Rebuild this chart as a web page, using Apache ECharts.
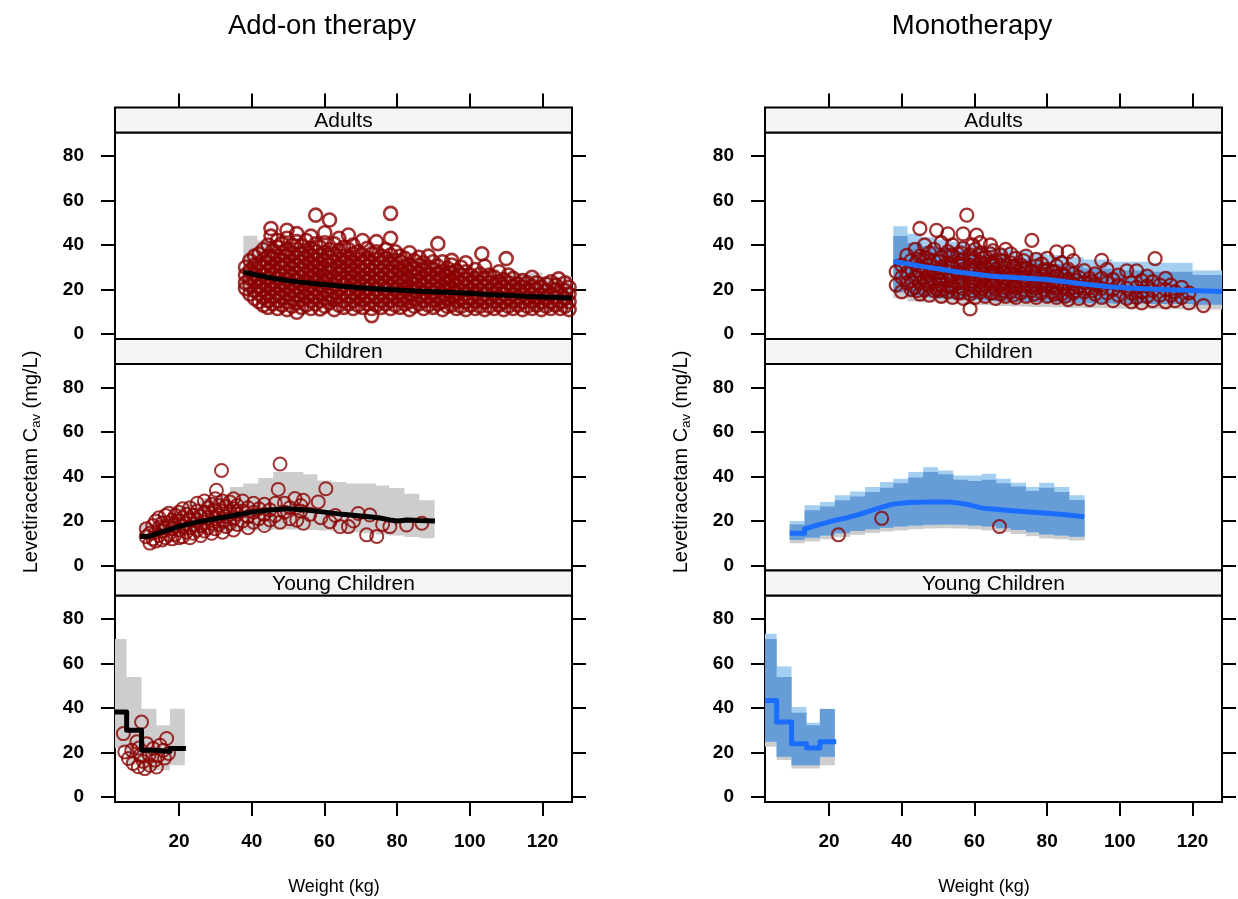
<!DOCTYPE html>
<html>
<head>
<meta charset="utf-8">
<title>Levetiracetam Cav versus weight</title>
<script src="https://cdn.jsdelivr.net/npm/echarts@6/dist/echarts.min.js"></script>
<style>
  html, body { margin: 0; padding: 0; background: #fff; }
  #main { width: 1238px; height: 899px; }
</style>
</head>
<body>
<div id="main"></div>
<script>
// ---- data ----
var therapies = ['Add-on therapy', 'Monotherapy'];
var panels = ['Adults', 'Children', 'Young Children'];
var xTicks = [20, 40, 60, 80, 100, 120];
var yTicks = [0, 20, 40, 60, 80];

// observed Cav, grouped by weight: [kg, conc, conc, ...]
var addonAdultObs = [
  [38.3, 20.5, 23, 26.5, 30], [39.5, 18, 22, 25, 28.5, 33], [40.8, 16, 19.5, 24, 27, 31, 35],
  [42.0, 14.5, 18, 21, 24.5, 28, 31.5, 36], [43.2, 13, 16.5, 20, 23, 26.5, 30, 33.5, 38],
  [44.5, 12, 15, 18.5, 22, 25, 28.5, 32, 35, 40], [45.3, 44, 47.4],
  [45.8, 13.5, 17, 20.5, 23.5, 27, 30.5, 34, 37.5], [47.1, 11.5, 15, 18, 21.5, 25, 28, 31.5, 35, 39, 42],
  [48.4, 13, 16.5, 20, 23, 26.5, 30, 33, 36.5, 40.5], [49.7, 11, 14.5, 18, 21, 24.5, 28, 31.5, 35, 38, 43, 46.6],
  [51.1, 12.5, 16, 19.5, 22.5, 26, 29.5, 32.5, 36, 40], [52.4, 9.8, 14, 17.5, 21, 24, 27.5, 31, 34.5, 38, 41.5, 45.1],
  [53.7, 12, 15.5, 19, 22.5, 25.5, 29, 32.5, 36, 39.5], [55.0, 13, 16.5, 20, 23.5, 27, 30.5, 34, 37.5, 42],
  [56.3, 11.5, 15, 18, 21.5, 25, 28, 31.5, 35, 38.5, 44], [57.6, 13.5, 17, 20.5, 24, 27, 30.5, 33.5, 37, 40.5, 53.4],
  [58.8, 11.3, 15, 18.5, 22, 25.5, 29, 32, 35.5, 39], [60.1, 12.5, 16, 19.5, 23, 26, 29.5, 33, 36.5, 41, 45.5],
  [61.4, 14, 17.5, 21, 24.5, 28, 31, 34.5, 38, 51.2], [62.7, 11, 15.5, 19, 22, 25.5, 29, 32.5, 36, 40.5],
  [64.0, 13, 16.5, 20, 23.5, 27, 30, 33.5, 37.5, 43], [65.3, 12, 15, 18.5, 22, 25, 28.5, 32, 35, 39],
  [66.6, 13.5, 17, 20.5, 24, 27.5, 31, 34, 38, 44.5], [67.9, 11.5, 15, 18.5, 22, 25.5, 29, 32.5, 36, 40],
  [69.2, 13, 16.5, 20, 23, 26.5, 30, 33.5, 37], [70.5, 12, 15.5, 19, 22, 25.5, 29, 32, 35.5, 42],
  [71.8, 13.5, 17, 20.5, 24, 27, 30.5, 34, 38.5], [73.0, 8.3, 11.5, 15, 18.5, 22, 25.5, 28.5, 32, 36],
  [74.3, 13, 16.5, 20, 23.5, 26.5, 30, 33.5, 37, 41.5], [75.6, 12, 15, 18.5, 22, 25, 28.5, 32, 35],
  [76.9, 13.5, 17, 20.5, 23.5, 27, 30.5, 34, 38], [78.2, 11.5, 15, 18, 21.5, 25, 28, 31.5, 35.5, 43, 54.2],
  [79.5, 13, 16.5, 20, 23, 26.5, 30, 33, 37], [80.8, 12, 15.5, 19, 22, 25.5, 29, 32.5, 35],
  [82.1, 13.5, 17, 20.5, 24, 27, 30.5, 34], [83.4, 11, 14.5, 18, 21, 24.5, 28, 31, 36.5],
  [84.7, 12.5, 16, 19.5, 22.5, 26, 29.5, 33], [86.0, 13.5, 17, 20.5, 24, 27.5, 31, 34.5],
  [87.3, 11.5, 15, 18.5, 22, 25, 28.5, 32], [88.6, 13, 16.5, 20, 23.5, 26.5, 30, 35],
  [89.9, 12, 15.5, 19, 22, 25.5, 29, 32.5], [91.2, 13.5, 17, 20.5, 24, 27, 30.5, 40.6],
  [92.5, 11, 14.5, 18, 21.5, 25, 28, 32.5], [93.8, 12.5, 16, 19.5, 23, 26, 29.5],
  [95.0, 13, 17, 20.5, 24, 27.5, 31, 33.1], [96.3, 11.5, 15, 18.5, 22, 25, 28.5],
  [97.6, 12.5, 16, 19.5, 23, 26.5, 30], [98.9, 11, 14.5, 18, 21.5, 24.5, 28, 32],
  [100.2, 13, 16.5, 20, 23, 26.5], [101.5, 11.5, 15, 18.5, 22, 25, 29],
  [102.8, 12.5, 16, 19.5, 23, 27], [103.3, 36.1], [104.1, 11, 14.5, 18, 21.5, 25, 30.5],
  [105.4, 12.5, 16, 19.5, 23, 26.5], [106.7, 11.5, 15, 18.5, 22, 25.5], [108.0, 13, 16.5, 20, 23.5, 28],
  [109.3, 11, 14.5, 18, 21, 24.5], [110.0, 33.9], [110.6, 12.5, 16, 19.5, 23, 26.5],
  [111.9, 11.5, 15, 18, 21.5, 25], [113.2, 13, 16.5, 20, 22.5], [114.5, 11, 14.5, 18, 21, 24],
  [115.8, 12.5, 16, 19.5, 23], [117.1, 11.5, 15, 18, 21.5, 25.5], [118.4, 13, 16.5, 20, 23],
  [119.7, 11, 14.5, 17.5, 21], [121.0, 12.5, 16, 19.5, 22.5], [122.3, 11.5, 14.5, 18, 23.5],
  [123.6, 13, 16.5, 20, 22], [124.4, 24.8], [124.9, 11.5, 15, 18.5], [126.2, 12.5, 16, 19.5, 23],
  [127.3, 11, 14.5, 18, 21]
];
var monoAdultObs = [
  [38.5, 22, 28], [40.0, 19, 25.5, 31], [41.4, 23, 27.5, 35.3], [42.6, 20, 24, 29, 33],
  [43.7, 21, 25.6, 31.5, 38], [44.4, 19.5, 28.5, 33.5], [45.0, 18, 23, 27, 30.5, 35, 47.4],
  [46.3, 20, 25, 29, 33, 40], [47.0, 24, 28.5, 34], [47.6, 17.5, 22, 26.5, 31, 36.5],
  [48.9, 19.5, 24, 28, 33, 38], [49.6, 20.3, 46.6], [50.2, 19.5, 24, 28, 32.5],
  [50.9, 17, 22, 26, 30, 34.5, 41], [51.4, 20.3], [52.7, 19, 24, 28, 32, 37, 45],
  [53.4, 21.5, 26, 30.5, 35.5], [54.0, 16.5, 21, 25.5, 30, 35, 40], [55.4, 18.5, 23, 27.5, 31.5, 36],
  [56.2, 18.5, 23, 27, 31.5, 36.5], [56.9, 16, 20.5, 25, 29, 33.5, 38.5, 45], [57.9, 53.4],
  [58.8, 11.3, 18, 22.5, 27, 31, 35.5], [59.5, 19.5, 24, 28.5, 33, 40],
  [60.2, 16.5, 21, 25, 29.5, 34, 38], [60.6, 44.4], [61.6, 19, 23.5, 27.5, 32, 36.5, 41],
  [62.3, 20.5, 25, 29, 34], [63.0, 17, 21.5, 25.5, 30, 34.5], [64.4, 18.5, 23, 27, 31.5, 36, 40],
  [65.1, 18.5, 22.5, 27.5, 31.5, 37.5], [65.8, 16, 20.5, 25, 29, 33], [67.2, 18, 22.5, 26.5, 31, 35.5],
  [68.0, 19.5, 24, 28, 33], [68.6, 17, 21, 25, 29.5, 38], [70.0, 19, 23.5, 27.5, 32, 36],
  [70.7, 17.5, 22, 26.5, 30.5], [71.4, 16.5, 21, 25.5, 30, 34], [72.8, 18.5, 23, 27, 31],
  [73.5, 20, 24.5, 28.5, 33], [74.2, 17, 21.5, 25.5, 29.5, 35], [75.8, 19.5, 24, 28, 42.1],
  [76.4, 18, 22.5, 27], [77.0, 16.5, 21, 26, 30.5, 33.5], [78.5, 18.5, 23, 27, 31.5],
  [79.2, 20, 24, 28.5], [80.0, 17, 21.5, 25, 29, 34], [81.4, 19, 23.5, 28], [82.0, 18, 23.5, 28],
  [82.6, 16.5, 21, 26, 30.5, 36.9], [84.0, 18, 23, 27, 32], [84.9, 17, 21.5, 26],
  [85.8, 15.5, 20, 24.5, 29, 36.9], [87.2, 18.5, 22.5, 27, 33], [88.0, 19.5, 24], [88.7, 16, 21, 25.5],
  [90.2, 19, 23, 28.5], [91.7, 15.5, 21, 25], [92.4, 19.5, 23.5], [93.2, 18, 22.5, 27],
  [95.0, 16.5, 20.5, 25, 33.1], [96.5, 18.5, 23, 29], [98.1, 15, 20, 24.5], [99.6, 17.5, 22, 26.5],
  [101.9, 16, 20.5, 28.4], [103.2, 14.5, 18.5, 23], [104.6, 16.5, 21, 28.4], [106.0, 14, 19, 24],
  [107.5, 17, 21.5, 26], [109.0, 15, 19.5, 23.5], [109.7, 33.9], [111.0, 17.5, 22],
  [112.6, 14.5, 20, 25], [114.0, 17.5, 22], [115.2, 15, 19], [117.0, 16.5, 21], [119.0, 14, 18.5],
  [123.0, 12.8]
];
var addonChildObs = [
  [11.0, 13, 16.5], [12.0, 10.1, 14.5], [12.8, 12, 18], [13.6, 11, 15, 20], [14.5, 13.5, 17, 21.5],
  [15.4, 11.5, 15.5, 19], [16.3, 12.5, 17, 22.5], [17.2, 14, 19, 23.5], [18.1, 12, 16.5, 20.5],
  [19.0, 14, 18, 22.5], [20.0, 12.5, 16, 20, 24], [21.0, 13, 17.5, 21.5, 25.5], [22.0, 15, 19, 23],
  [23.0, 12.5, 17, 21, 26], [24.0, 14.5, 18.5, 22.5], [25.0, 16, 20.5, 24.5, 28], [26.0, 13.5, 18, 22],
  [27.0, 15.5, 19.5, 24, 29], [28.0, 17, 21.5, 26], [29.0, 14.5, 19, 23.5, 27.5], [30.0, 16.5, 21, 25, 30],
  [30.3, 33.8], [31.0, 18.5, 22.5, 27], [31.7, 42.7], [32.0, 15, 20, 24.5, 29], [33.0, 17.5, 22, 26.5],
  [34.0, 19, 24, 28.5], [35.0, 16, 21, 25.5, 30], [36.0, 18.5, 23, 27], [37.5, 20, 24.5, 29],
  [39.0, 17, 22, 26], [40.5, 19.5, 24, 28], [42.0, 21, 25.5], [43.5, 18, 23, 27.5], [45.0, 20.5, 25],
  [46.5, 22.5, 28], [47.3, 34.2], [47.8, 19.5, 45.6], [49.0, 24, 28], [50.5, 21, 26], [51.9, 30.1],
  [52.4, 20.4], [53.5, 24.5, 27], [54.2, 19, 29.3], [56.0, 23], [58.3, 28.6], [59.0, 21.5],
  [60.4, 34.5], [61.5, 19.7], [63.0, 22.5], [64.3, 17.5], [66.6, 17.5], [68.0, 20], [69.3, 23.4],
  [71.6, 13.8], [72.5, 22.7], [74.4, 13.1], [76.0, 18.5], [78.0, 17.5], [82.6, 18.2], [86.8, 19]
];
var monoChildObs = [[22.6, 13.8], [34.5, 21.2], [66.9, 17.5]];
var youngAddonObs = [
  [4.7, 28.5], [5.1, 20.3], [6.1, 17.3], [7.0, 21], [7.4, 15.1], [8.4, 24.8], [8.8, 13.6],
  [9.0, 22], [9.3, 18.8], [9.7, 33.7], [10.2, 16], [10.6, 12.8], [11.1, 24], [11.8, 19],
  [12.0, 14.3], [12.9, 21.8], [13.4, 16.6], [13.8, 13.5], [14.2, 18.5], [14.8, 23.3],
  [15.7, 21], [16.0, 17.5], [16.6, 26.3], [17.1, 19.6]
];
var youngMonoObs = [];

// simulated prediction intervals, step bins (edges in kg)
var adultBins = [37.7, 41.6, 45.5, 49.5, 53.5, 57.5, 61.5, 65.5, 70, 75, 80, 85, 90, 98, 108, 120, 128.1];
var addonAdultLo = [16.2, 14.4, 14, 13.6, 13.3, 13, 12.7, 12.4, 12.2, 12, 11.8, 11.6, 11.4, 11.1, 10.8, 10.5];
var addonAdultHi = [44.2, 42, 40.5, 39.5, 38.5, 37.5, 36.5, 35.5, 34.5, 33.5, 32.5, 31.5, 30.5, 29, 27.5, 25.7];
var monoAdultGrayLo = [16.2, 14.6, 14.2, 13.8, 13.5, 13.2, 12.9, 12.6, 12.4, 12.2, 12, 11.8, 11.6, 11.4, 11.2, 11];
var monoAdultGrayHi = [44, 41, 39.5, 38.5, 37.5, 36.5, 35.5, 34.5, 33.5, 32.5, 31.5, 30.5, 29.5, 28.5, 28, 26.5];
var monoAdultBlueLo = [18.8, 17, 16.5, 16, 15.7, 15.4, 15.1, 14.8, 14.6, 14.4, 14.2, 14, 13.8, 13.6, 13.5, 13.2];
var monoAdultBlueHi = [48.4, 45, 43.5, 42.5, 41.5, 40.5, 39.5, 38.5, 37.5, 36.5, 35.5, 34.5, 33.5, 32.5, 32, 28.6];

var childBins = [9.2, 13.3, 17.5, 21.6, 25.8, 29.9, 34, 37.7, 41.8, 45.9, 50, 54.2, 58.1, 62, 66, 70, 74.2, 77.8, 82, 86.1, 90.3];
var addonChildLo = [12.3, 12.8, 13.5, 14, 14.5, 15, 15.5, 15.8, 16, 16.2, 16.2, 16, 15.8, 15.5, 15, 14.5, 14, 13.5, 12.8, 12.3];
var addonChildHi = [19, 22.7, 26.4, 28.6, 30.1, 31.6, 35.3, 36.8, 39.3, 42, 42, 41, 38.2, 37.5, 36.8, 36.8, 36, 34.8, 32.3, 29.3];
var monoChildGrayLo = [10, 10.8, 11.8, 12.8, 13.8, 14.6, 15.3, 15.8, 16.3, 16.6, 16.8, 16.6, 16.3, 15.8, 15, 14.2, 13.2, 12.2, 11.8, 11.3];
var monoChildGrayHi = [18.5, 24.9, 26.5, 29.3, 31, 33, 35, 37, 39.5, 42, 41, 38.5, 38, 38.5, 37, 35.5, 33.5, 35, 33, 29.5];
var monoChildBlueLo = [11.5, 12.5, 13.5, 14.5, 15.5, 16.3, 17, 17.5, 18, 18.3, 18.5, 18.3, 18, 17.5, 16.8, 16, 15, 14, 13.5, 13];
var monoChildBlueHi = [20, 27.1, 28.6, 31.6, 33.3, 35.3, 37.5, 39, 42, 44.2, 42.7, 40.4, 40.4, 41.2, 39, 37.2, 35.3, 37.2, 35.3, 31.6];

var youngBins = [2.4, 5.6, 9.7, 13.8, 17.5, 21.6];
var youngAddonLo = [22, 14.5, 12, 12.1, 14.3];
var youngAddonHi = [71, 53.9, 39.7, 32.2, 39.7];
var youngMonoGrayLo = [22.6, 16.6, 12.8, 12.8, 14.3];
var youngMonoGrayHi = [71, 53.9, 37.9, 32.2, 39.5];
var youngMonoBlueLo = [24.8, 18.1, 14.3, 14.3, 18.1];
var youngMonoBlueHi = [73.3, 58.6, 40.5, 33.4, 39.7];

// median lines [kg, conc]
var addonAdultMed = [[37.7, 27.8], [42, 26.3], [46, 25], [50, 24], [55, 23], [60, 22.3], [65, 21.5], [70, 20.8],
  [75, 20.2], [80, 19.8], [85, 19.3], [90, 19], [95, 18.7], [100, 18.3], [105, 17.8], [110, 17.4], [115, 17],
  [120, 16.6], [128.1, 16.2]];
var monoAdultMed = [[37.7, 32.6], [42, 31.5], [46, 30.3], [50, 29.3], [55, 28], [60, 27], [65, 26], [70, 25.5],
  [75, 25], [80, 24.5], [85, 23.5], [90, 22.5], [97, 21.3], [105, 20.5], [115, 19.8], [128.1, 19.1]];
var addonChildMed = [[9.3, 13.1], [12, 13.2], [15, 15], [18, 16.5], [21, 18], [25, 19.5], [30, 21], [35, 22.5],
  [40, 24], [45, 25], [50, 25.5], [55, 25], [60, 24], [65, 23], [70, 22.3], [75, 21.5], [78, 20.5], [80, 20],
  [83, 20.5], [86, 20.2], [90.4, 20]];
var monoChildMed = [[9.2, 14.5], [13.3, 14.5], [13.3, 16.5], [17.5, 18.5], [21.9, 20.4], [25, 21.5], [29.2, 23.4],
  [33, 25.5], [37.5, 27.6], [42, 28.3], [47.5, 28.6], [53, 28.6], [58, 27.5], [62.2, 25.8], [68, 25], [74.1, 24.2],
  [80, 23.5], [85, 22.8], [90.2, 21.9]];
var youngAddonMed = [[2.4, 38.2], [5.6, 38.2], [5.6, 30], [9.7, 30], [9.7, 21], [13.8, 21], [13.8, 20.5],
  [17.5, 20.5], [17.5, 21.8], [21.9, 21.8]];
var youngMonoMed = [[2.4, 43.4], [5.6, 43.4], [5.6, 33.7], [9.7, 33.7], [9.7, 24], [13.8, 24], [13.8, 22],
  [17.5, 22], [17.5, 24.8], [22, 24.8]];

// ---- layout ----
var FONT = "'Liberation Sans', Arial, Helvetica, sans-serif";
var GRAY = '#cdcdcd', LIGHTBLUE = '#a4cff1', MIDBLUE = '#679dd6', OBS = '#8b0000';
var frameLeft = [115, 765], frameW = 457, frameTop = 107.5, stripH = 25, plotH = 206.5;
var xMin = 2.4, xMax = 128.1, yMin = -2.2, yMax = 90.5;

var myChart = echarts.init(document.getElementById('main'));

function flat(groups) {
  var out = [];
  groups.forEach(function (g) {
    for (var i = 1; i < g.length; i++) out.push([g[0], g[i]]);
  });
  return out;
}

function bandSeries(gi, edges, lo, hi, color, z) {
  var data = lo.map(function (v, i) { return [edges[i], hi[i], edges[i + 1], v]; });
  return {
    type: 'custom', xAxisIndex: gi, yAxisIndex: gi * 2, z: z, silent: true,
    data: data,
    renderItem: function (params, api) {
      if (params.dataIndex !== 0) return null;
      var pts = [];
      data.forEach(function (d) {
        pts.push(api.coord([d[0], d[1]]));
        pts.push(api.coord([d[2], d[1]]));
      });
      for (var i = data.length - 1; i >= 0; i--) {
        pts.push(api.coord([data[i][2], data[i][3]]));
        pts.push(api.coord([data[i][0], data[i][3]]));
      }
      return { type: 'polygon', shape: { points: pts }, style: { fill: color } };
    }
  };
}

function overlap(aLo, aHi, bLo, bHi) {
  return {
    lo: aLo.map(function (v, i) { return Math.max(v, bLo[i]); }),
    hi: aHi.map(function (v, i) { return Math.min(v, bHi[i]); })
  };
}

function obsSeries(gi, pts, ring) {
  return {
    type: 'scatter', xAxisIndex: gi, yAxisIndex: gi * 2, z: 3, silent: true,
    symbol: 'circle', symbolSize: 13,
    itemStyle: { color: 'rgba(0,0,0,0)', borderColor: OBS, borderWidth: ring || 2 },
    data: pts
  };
}

function medSeries(gi, pts, color) {
  return {
    type: 'line', xAxisIndex: gi, yAxisIndex: gi * 2, z: 4, silent: true,
    showSymbol: false, symbol: 'none',
    lineStyle: { color: color, width: 5, join: 'round' },
    data: pts
  };
}

var grids = [], xAxes = [], yAxes = [], series = [], graphics = [];
var tickStyle = { color: '#000', width: 2 };
var labelStyle = { color: '#000', fontSize: 19, fontWeight: 'bold', fontFamily: FONT };

for (var side = 0; side < 2; side++) {
  for (var row = 0; row < 3; row++) {
    var gi = side * 3 + row;
    var stripTop = frameTop + row * (stripH + plotH);
    grids.push({
      left: frameLeft[side], top: stripTop + stripH, width: frameW, height: plotH,
      show: true, borderColor: '#000', borderWidth: 2, backgroundColor: 'rgba(0,0,0,0)'
    });
    xAxes.push({
      gridIndex: gi, type: 'value', min: xMin, max: xMax,
      position: row === 0 ? 'top' : 'bottom', offset: row === 0 ? stripH : 0,
      axisLine: { show: false, onZero: false }, splitLine: { show: false },
      axisTick: { show: row !== 1, inside: false, length: 14, lineStyle: tickStyle, customValues: xTicks },
      axisLabel: Object.assign({ show: row === 2, customValues: xTicks, margin: 30 }, labelStyle)
    });
    yAxes.push({
      gridIndex: gi, type: 'value', min: yMin, max: yMax, position: 'left',
      axisLine: { show: false, onZero: false }, splitLine: { show: false },
      axisTick: { show: true, inside: false, length: 14, lineStyle: tickStyle, customValues: yTicks },
      axisLabel: Object.assign({ show: true, customValues: yTicks, margin: 31 }, labelStyle)
    });
    yAxes.push({
      gridIndex: gi, type: 'value', min: yMin, max: yMax, position: 'right',
      axisLine: { show: false, onZero: false }, splitLine: { show: false },
      axisTick: { show: true, inside: false, length: 14, lineStyle: tickStyle, customValues: yTicks },
      axisLabel: { show: false }
    });
    // lattice strip
    graphics.push({
      type: 'rect', z: 10, silent: true,
      shape: { x: frameLeft[side], y: stripTop, width: frameW, height: stripH },
      style: { fill: '#f5f5f5', stroke: '#000', lineWidth: 2 }
    });
    graphics.push({
      type: 'text', z: 11, silent: true, x: frameLeft[side] + frameW / 2, y: stripTop + stripH / 2 + 1,
      style: { text: panels[row], font: '21px ' + FONT, fill: '#000', align: 'center', verticalAlign: 'middle' }
    });
  }
}

// add-on therapy panels
series.push(bandSeries(0, adultBins, addonAdultLo, addonAdultHi, GRAY, 1));
series.push(obsSeries(0, flat(addonAdultObs), 2.6));
series.push(medSeries(0, addonAdultMed, '#000'));
series.push(bandSeries(1, childBins, addonChildLo, addonChildHi, GRAY, 1));
series.push(obsSeries(1, flat(addonChildObs)));
series.push(medSeries(1, addonChildMed, '#000'));
series.push(bandSeries(2, youngBins, youngAddonLo, youngAddonHi, GRAY, 1));
series.push(obsSeries(2, flat(youngAddonObs)));
series.push(medSeries(2, youngAddonMed, '#000'));

// monotherapy panels
var monoSets = [
  [adultBins, monoAdultGrayLo, monoAdultGrayHi, monoAdultBlueLo, monoAdultBlueHi, monoAdultObs, monoAdultMed],
  [childBins, monoChildGrayLo, monoChildGrayHi, monoChildBlueLo, monoChildBlueHi, monoChildObs, monoChildMed],
  [youngBins, youngMonoGrayLo, youngMonoGrayHi, youngMonoBlueLo, youngMonoBlueHi, youngMonoObs, youngMonoMed]
];
monoSets.forEach(function (s, row) {
  var gi = 3 + row;
  var ov = overlap(s[1], s[2], s[3], s[4]);
  series.push(bandSeries(gi, s[0], s[1], s[2], GRAY, 1));
  series.push(bandSeries(gi, s[0], s[3], s[4], LIGHTBLUE, 1));
  series.push(bandSeries(gi, s[0], ov.lo, ov.hi, MIDBLUE, 1));
  series.push(obsSeries(gi, flat(s[5]), row === 0 ? 2.3 : 2));
  series.push(medSeries(gi, s[6], '#1a6dff'));
});

// titles and axis titles
var titleX = [322, 972];
for (var k = 0; k < 2; k++) {
  graphics.push({
    type: 'text', silent: true, x: titleX[k], y: 26,
    style: { text: therapies[k], font: '27.5px ' + FONT, fill: '#000', align: 'center', verticalAlign: 'middle' }
  });
  graphics.push({
    type: 'text', silent: true, x: frameLeft[k] + 219, y: 887,
    style: { text: 'Weight (kg)', font: '18px ' + FONT, fill: '#000', align: 'center', verticalAlign: 'middle' }
  });
  graphics.push({
    type: 'text', silent: true, x: frameLeft[k] - 84, y: 462, rotation: Math.PI / 2,
    style: {
      text: '{a|Levetiracetam C}{b|av}{a| (mg/L)}', align: 'center', verticalAlign: 'middle',
      rich: {
        a: { fontSize: 20, fontFamily: FONT, fill: '#000', lineHeight: 24 },
        b: { fontSize: 13, fontFamily: FONT, fill: '#000', lineHeight: 15, verticalAlign: 'bottom', padding: [6, 0, 0, 0] }
      }
    }
  });
}

var option = {
  animation: false,
  backgroundColor: '#fff',
  grid: grids,
  xAxis: xAxes,
  yAxis: yAxes,
  series: series,
  graphic: { elements: graphics }
};
myChart.setOption(option);
</script>
</body>
</html>
